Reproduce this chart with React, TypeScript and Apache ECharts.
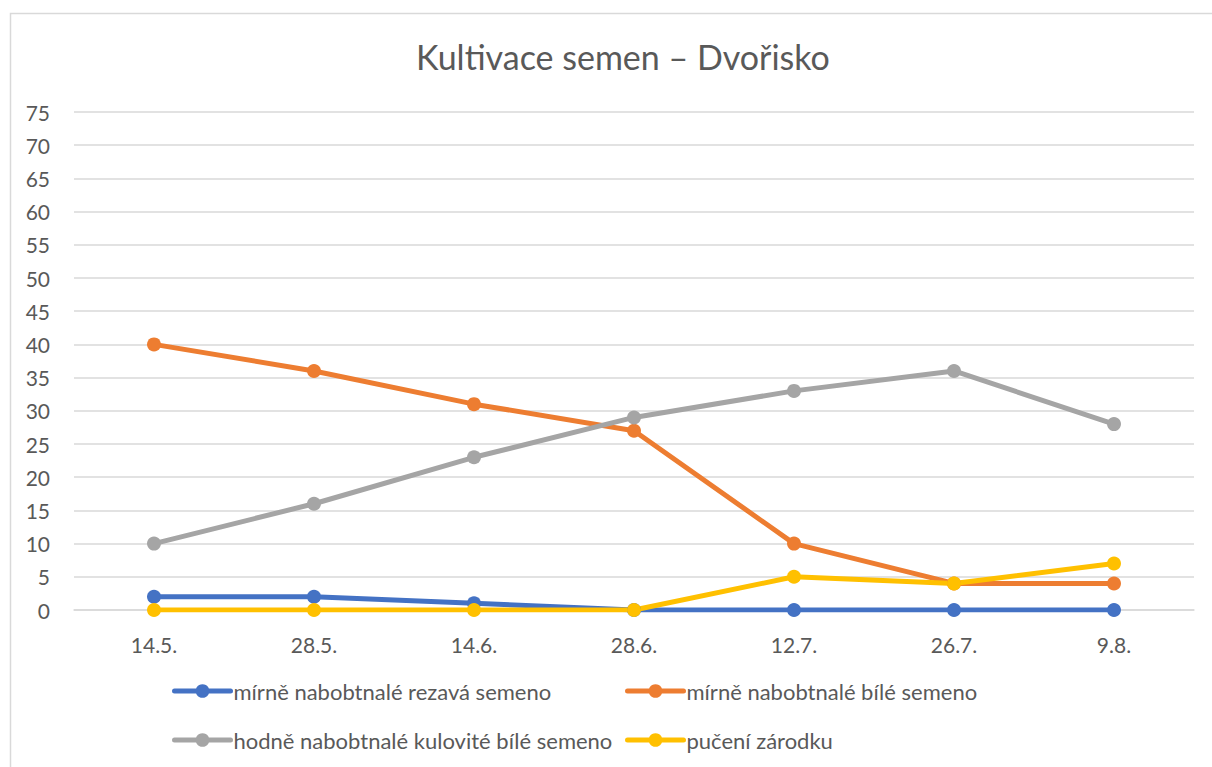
import React, { useEffect, useRef } from "react";
import * as echarts from "echarts";

const categories = ["14.5.", "28.5.", "14.6.", "28.6.", "12.7.", "26.7.", "9.8."];
const seriesNames = [
  "mírně nabobtnalé rezavá semeno",
  "mírně nabobtnalé bílé semeno",
  "hodně nabobtnalé kulovité bílé semeno",
  "pučení zárodku",
];
const rezava = [2, 2, 1, 0, 0, 0, 0];
const bile = [40, 36, 31, 27, 10, 4, 4];
const kulovite = [10, 16, 23, 29, 33, 36, 28];
const puceni = [0, 0, 0, 0, 5, 4, 7];
const colors = ["#4472C4", "#ED7D31", "#A5A5A5", "#FFC000"];
const titleText = "Kultivace semen – Dvořisko";

const FONT = "Lato, 'Open Sans', sans-serif";

export default function App() {
  const ref = useRef<HTMLDivElement>(null);
  useEffect(() => {
    if (!ref.current) return;
    const chart = echarts.init(ref.current, undefined, { renderer: "svg" });
    const values = [rezava, bile, kulovite, puceni];
    const legendPos = [
      { left: 172, top: 680 },
      { left: 625, top: 680 },
      { left: 172, top: 729 },
      { left: 625, top: 729 },
    ];
    chart.setOption({
      animation: false,
      backgroundColor: "#ffffff",
      title: {
        text: titleText,
        left: 411,
        top: 34,
        textStyle: { fontFamily: FONT, fontSize: 34, fontWeight: "normal", color: "#595959" },
      },
      graphic: [
        {
          type: "rect",
          shape: { x: 10.5, y: 13.5, width: 1400, height: 900 },
          style: { fill: "none", stroke: "#d9d9d9", lineWidth: 1.5 },
          silent: true,
        },
      ],
      legend: seriesNames.map((n, i) => ({
        data: [n],
        left: legendPos[i].left,
        top: legendPos[i].top,
        itemWidth: 56,
        itemHeight: 17,
        itemGap: 0,
        padding: 0,
        lineStyle: { width: 5 },
        textStyle: { fontFamily: FONT, fontSize: 22, color: "#595959", padding: [0, 0, 0, -2] },
      })),
      grid: { left: 74, right: 18, top: 112, bottom: 157, containLabel: false },
      xAxis: {
        type: "category",
        data: categories,
        boundaryGap: true,
        axisLine: { show: true, lineStyle: { color: "#d9d9d9", width: 1.5 } },
        axisTick: { show: false },
        axisLabel: { fontFamily: FONT, fontSize: 21, color: "#595959", margin: 24 },
      },
      yAxis: {
        type: "value",
        min: 0,
        max: 75,
        interval: 5,
        axisLine: { show: false },
        axisTick: { show: false },
        splitLine: { lineStyle: { color: "#d9d9d9", width: 1.5 } },
        axisLabel: { fontFamily: FONT, fontSize: 21, color: "#595959", margin: 24 },
      },
      series: seriesNames.map((n, i) => ({
        name: n,
        type: "line",
        data: values[i],
        symbol: "circle",
        symbolSize: 14,
        color: colors[i],
        lineStyle: { width: 5, color: colors[i], cap: "round" },
        itemStyle: { color: colors[i] },
      })),
    });
    return () => chart.dispose();
  }, []);
  return (
    <div
      ref={ref}
      style={{ position: "fixed", left: 0, top: 0, width: 1212, height: 767, background: "#fff" }}
    />
  );
}
